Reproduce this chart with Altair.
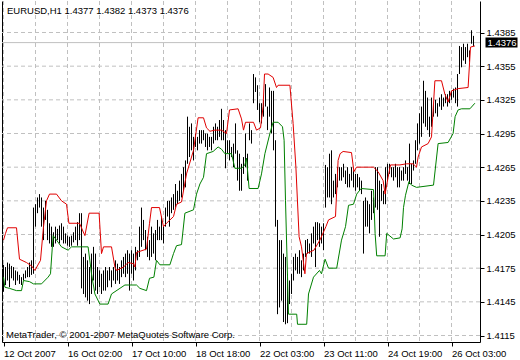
import json
import altair as alt
import pandas as pd

# ---------------- data ----------------
symbol = "EURUSD,H1"
copyright_text = "MetaTrader, \u00a9 2001-2007 MetaQuotes Software Corp."

date_ticks = [0, 32, 64, 96, 128, 160, 192, 224]
date_labels = ["12 Oct 2007", "16 Oct 02:00", "17 Oct 10:00", "18 Oct 18:00",
               "22 Oct 03:00", "23 Oct 11:00", "24 Oct 19:00", "26 Oct 03:00"]
grid_x = [0, 16, 32, 48, 64, 80, 96, 112, 128, 144, 160, 176, 192, 208, 224]
price_ticks = [1.4115, 1.4145, 1.4175, 1.4205, 1.4235, 1.4265, 1.4295, 1.4325, 1.4355, 1.4385]

highs = [
    1.4178, 1.4176, 1.4180, 1.4179, 1.4177, 1.4176, 1.4173, 1.4172, 1.4169, 1.4167,
    1.4170, 1.4173, 1.4176, 1.4180, 1.4182, 1.4229, 1.4232, 1.4238, 1.4241, 1.4238,
    1.4229, 1.4235, 1.4227, 1.4215, 1.4212, 1.4207, 1.4212, 1.4210, 1.4213, 1.4215,
    1.4212, 1.4206, 1.4204, 1.4203, 1.4204, 1.4207, 1.4212, 1.4216, 1.4224, 1.4224,
    1.4185, 1.4188, 1.4182, 1.4176, 1.4188, 1.4194, 1.4188, 1.4176, 1.4173, 1.4170,
    1.4173, 1.4176, 1.4173, 1.4176, 1.4173, 1.4176, 1.4182, 1.4179, 1.4176, 1.4182,
    1.4185, 1.4188, 1.4191, 1.4188, 1.4191, 1.4188, 1.4194, 1.4191, 1.4212, 1.4229,
    1.4218, 1.4209, 1.4203, 1.4200, 1.4212, 1.4206, 1.4209, 1.4218, 1.4212, 1.4221,
    1.4212, 1.4229, 1.4235, 1.4235, 1.4238, 1.4241, 1.4250, 1.4244, 1.4253, 1.4259,
    1.4265, 1.4271, 1.4310, 1.4301, 1.4304, 1.4292, 1.4295, 1.4292, 1.4298, 1.4298,
    1.4298, 1.4295, 1.4295, 1.4292, 1.4292, 1.4301, 1.4304, 1.4301, 1.4307, 1.4317,
    1.4307, 1.4298, 1.4289, 1.4289, 1.4283, 1.4286, 1.4304, 1.4280, 1.4277, 1.4268,
    1.4274, 1.4295, 1.4277, 1.4304, 1.4298, 1.4348, 1.4345, 1.4338, 1.4322, 1.4322,
    1.4325, 1.4339, 1.4319, 1.4336, 1.4333, 1.4333, 1.4289, 1.4218, 1.4200, 1.4200,
    1.4188, 1.4185, 1.4170, 1.4164, 1.4170, 1.4185, 1.4188, 1.4185, 1.4191, 1.4182,
    1.4188, 1.4200, 1.4201, 1.4197, 1.4206, 1.4212, 1.4216, 1.4216, 1.4215, 1.4212,
    1.4215, 1.4267, 1.4265, 1.4277, 1.4280, 1.4253, 1.4259, 1.4265, 1.4265, 1.4265,
    1.4268, 1.4262, 1.4265, 1.4259, 1.4265, 1.4262, 1.4259, 1.4259, 1.4256, 1.4253,
    1.4235, 1.4238, 1.4235, 1.4232, 1.4244, 1.4238, 1.4265, 1.4265, 1.4253, 1.4250,
    1.4244, 1.4265, 1.4268, 1.4268, 1.4265, 1.4265, 1.4268, 1.4265, 1.4265, 1.4262,
    1.4265, 1.4271, 1.4265, 1.4286, 1.4268, 1.4271, 1.4289, 1.4304, 1.4313, 1.4319,
    1.4342, 1.4333, 1.4327, 1.4310, 1.4327, 1.4322, 1.4325, 1.4322, 1.4327, 1.4330,
    1.4327, 1.4330, 1.4330, 1.4333, 1.4333, 1.4335, 1.4336, 1.4348, 1.4373, 1.4372,
    1.4375, 1.4372, 1.4375, 1.4369, 1.4387, 1.4382,
]
lows = [
    1.4154, 1.4160, 1.4164, 1.4158, 1.4166, 1.4164, 1.4160, 1.4164, 1.4161, 1.4160,
    1.4164, 1.4166, 1.4167, 1.4167, 1.4169, 1.4170, 1.4212, 1.4224, 1.4229, 1.4212,
    1.4200, 1.4218, 1.4200, 1.4197, 1.4194, 1.4194, 1.4197, 1.4200, 1.4197, 1.4200,
    1.4197, 1.4197, 1.4195, 1.4194, 1.4195, 1.4198, 1.4200, 1.4195, 1.4200, 1.4157,
    1.4152, 1.4149, 1.4146, 1.4143, 1.4152, 1.4164, 1.4155, 1.4152, 1.4158, 1.4152,
    1.4155, 1.4155, 1.4158, 1.4164, 1.4158, 1.4164, 1.4161, 1.4164, 1.4161, 1.4167,
    1.4170, 1.4167, 1.4170, 1.4155, 1.4170, 1.4164, 1.4173, 1.4182, 1.4185, 1.4194,
    1.4200, 1.4191, 1.4185, 1.4182, 1.4185, 1.4188, 1.4182, 1.4200, 1.4200, 1.4200,
    1.4197, 1.4212, 1.4221, 1.4212, 1.4224, 1.4227, 1.4229, 1.4232, 1.4235, 1.4238,
    1.4244, 1.4247, 1.4268, 1.4274, 1.4280, 1.4271, 1.4283, 1.4280, 1.4286, 1.4286,
    1.4289, 1.4283, 1.4280, 1.4283, 1.4280, 1.4286, 1.4289, 1.4289, 1.4292, 1.4289,
    1.4289, 1.4264, 1.4277, 1.4271, 1.4274, 1.4265, 1.4277, 1.4253, 1.4244, 1.4244,
    1.4259, 1.4265, 1.4253, 1.4289, 1.4286, 1.4322, 1.4332, 1.4316, 1.4305, 1.4304,
    1.4310, 1.4319, 1.4298, 1.4310, 1.4295, 1.4280, 1.4212, 1.4134, 1.4140, 1.4146,
    1.4127, 1.4125, 1.4126, 1.4143, 1.4152, 1.4164, 1.4173, 1.4170, 1.4170, 1.4167,
    1.4173, 1.4185, 1.4188, 1.4188, 1.4185, 1.4197, 1.4176, 1.4200, 1.4194, 1.4197,
    1.4191, 1.4229, 1.4238, 1.4238, 1.4232, 1.4238, 1.4241, 1.4247, 1.4253, 1.4253,
    1.4256, 1.4250, 1.4247, 1.4247, 1.4253, 1.4247, 1.4244, 1.4247, 1.4244, 1.4241,
    1.4188, 1.4212, 1.4212, 1.4206, 1.4218, 1.4224, 1.4229, 1.4227, 1.4203, 1.4235,
    1.4232, 1.4232, 1.4253, 1.4259, 1.4256, 1.4253, 1.4256, 1.4247, 1.4247, 1.4253,
    1.4253, 1.4259, 1.4253, 1.4250, 1.4250, 1.4262, 1.4268, 1.4280, 1.4286, 1.4292,
    1.4304, 1.4301, 1.4298, 1.4292, 1.4301, 1.4310, 1.4313, 1.4310, 1.4319, 1.4316,
    1.4319, 1.4322, 1.4319, 1.4322, 1.4325, 1.4327, 1.4322, 1.4319, 1.4348, 1.4354,
    1.4360, 1.4357, 1.4363, 1.4359, 1.4375, 1.4373,
]
last_open = 1.4377
last_close = 1.4376

red_bar = [0, 1, 2, 6.5, 8, 11.5, 14, 15.7, 18.5, 20, 21.5, 23, 26.5, 29, 31.5, 32.7, 38,
           40.7, 42.8, 47.8, 49, 50, 54, 55.7, 56.5, 60, 62.3, 65, 65.7, 66.5, 71.5, 73, 74,
           78, 80, 81.5, 85, 86.5, 89, 91.5, 95, 97.3, 100, 101.5, 103.2, 105.7, 109, 111.5,
           113, 117.3, 119, 120, 121, 125, 126.5, 128.5, 129.8, 130.5, 132.3, 134.8, 136.5,
           137.3, 143.2, 144.8, 146.2, 147.8, 149, 150.7, 151.5, 155.2, 158.2, 161.2, 162.5,
           166, 167.3, 168.3, 169.8, 174, 175.2, 176.5, 185, 187.3, 189.8, 190.8, 192.3,
           193.5, 198.2, 201.5, 204.8, 206.5, 207.3, 209, 212.3, 214, 215.7, 219, 220.7,
           222.3, 224, 227.3, 232.3, 233.5, 235.7]
red_price = [1.4200, 1.4206, 1.4211, 1.4211, 1.4183, 1.4180, 1.4177, 1.4173, 1.4182, 1.4212,
             1.4235, 1.4241, 1.4241, 1.4235, 1.4232, 1.4215, 1.4215, 1.4204, 1.4224, 1.4224,
             1.4188, 1.4194, 1.4194, 1.4176, 1.4173, 1.4176, 1.4180, 1.4179, 1.4176, 1.4189,
             1.4192, 1.4215, 1.4229, 1.4229, 1.4212, 1.4215, 1.4221, 1.4232, 1.4234, 1.4259,
             1.4280, 1.4309, 1.4309, 1.4300, 1.4297, 1.4298, 1.4298, 1.4295, 1.4316, 1.4317,
             1.4308, 1.4298, 1.4305, 1.4305, 1.4298, 1.4300, 1.4319, 1.4348, 1.4348, 1.4345,
             1.4336, 1.4338, 1.4338, 1.4304, 1.4265, 1.4203, 1.4194, 1.4170, 1.4188, 1.4191,
             1.4200, 1.4212, 1.4218, 1.4221, 1.4271, 1.4277, 1.4279, 1.4278, 1.4261, 1.4265,
             1.4265, 1.4261, 1.4253, 1.4241, 1.4256, 1.4267, 1.4267, 1.4268, 1.4268, 1.4265,
             1.4274, 1.4283, 1.4286, 1.4292, 1.4342, 1.4342, 1.4330, 1.4323, 1.4333, 1.4335,
             1.4336, 1.4372, 1.4373]

green_bar = [0, 0.7, 3, 6.5, 9, 10, 13, 15, 19, 22.3, 23.5, 24.8, 26.5, 29, 32.3, 34, 42.3,
             44, 45.7, 48.2, 52.3, 54, 60.7, 62.3, 66.5, 68.2, 71.5, 73, 75.2, 76.5, 78.2,
             83.2, 85, 86.5, 89, 90.7, 95, 96.5, 98.2, 100, 101.5, 104.8, 107.3, 109, 110.7,
             114, 115.7, 119, 120.7, 121.5, 122.8, 127.3, 129, 130.7, 133.2, 134.8, 137.3,
             139.5, 140.3, 141, 142.5, 146.6, 147, 151.6, 152.5, 155, 158, 159, 160.8, 162.5,
             166.6, 169, 171, 172.5, 175, 176.6, 178.8, 185, 185.8, 186.6, 190.8, 191.6, 195,
             198.3, 199.3, 200, 201, 202.7, 204, 206.5, 215, 217.3, 222.3, 224.8, 225.8,
             227.3, 229, 233.2, 235.7]
green_price = [1.4167, 1.4158, 1.4157, 1.4155, 1.4155, 1.4164, 1.4163, 1.4161, 1.4161, 1.4167,
               1.4170, 1.4204, 1.4200, 1.4194, 1.4191, 1.4194, 1.4194, 1.4170, 1.4152, 1.4143,
               1.4143, 1.4152, 1.4160, 1.4160, 1.4160, 1.4157, 1.4155, 1.4166, 1.4167, 1.4182,
               1.4178, 1.4178, 1.4188, 1.4195, 1.4196, 1.4224, 1.4227, 1.4241, 1.4250, 1.4256,
               1.4277, 1.4279, 1.4283, 1.4281, 1.4277, 1.4277, 1.4264, 1.4264, 1.4267, 1.4273,
               1.4246, 1.4246, 1.4259, 1.4277, 1.4295, 1.4305, 1.4305, 1.4301, 1.4289, 1.4235,
               1.4134, 1.4134, 1.4125, 1.4125, 1.4152, 1.4167, 1.4173, 1.4170, 1.4183, 1.4175,
               1.4175, 1.4200, 1.4212, 1.4231, 1.4232, 1.4241, 1.4246, 1.4245, 1.4206, 1.4186,
               1.4186, 1.4206, 1.4201, 1.4202, 1.4210, 1.4229, 1.4240, 1.4252, 1.4249, 1.4247,
               1.4249, 1.4286, 1.4287, 1.4295, 1.4310, 1.4316, 1.4317, 1.4317, 1.4322]

# ---------------- tables ----------------
bars = pd.DataFrame({"bar": list(range(len(highs))), "high": highs, "low": lows})
red = pd.DataFrame({"bar": red_bar, "price": red_price})
green = pd.DataFrame({"bar": green_bar, "price": green_price})
hgrid = pd.DataFrame({"price": price_ticks})
vgrid = pd.DataFrame({"bar": grid_x})
last = pd.DataFrame({"price": [last_close], "label": [f"{last_close:.4f}"]})
header = pd.DataFrame({"t": [f"{symbol}  {last_open:.4f} {highs[-1]:.4f} {lows[-1]:.4f} {last_close:.4f}"]})
foot = pd.DataFrame({"t": [copyright_text]})

FONT = "Liberation Sans"
FS = 9.5
GRID = "#c0c0c0"

xs = alt.Scale(domain=[-0.75, 238.25], nice=False, zero=False)
ys = alt.Scale(domain=[1.410921, 1.441307], nice=False, zero=False)

label_expr = json.dumps(date_labels) + "[round(datum.value / 32)]"

x_axis = alt.Axis(values=date_ticks, labelExpr=label_expr, grid=False, title=None,
                  orient="bottom", domainColor="black", tickColor="black", tickSize=4,
                  labelAlign="left", labelFont=FONT, labelFontSize=FS, labelColor="black",
                  labelPadding=2, labelOverlap=False, labelFlush=False, labelBaseline="top")
y_axis = alt.Axis(values=price_ticks, format=".4f", grid=False, title=None, orient="right",
                  domainColor="black", tickColor="black", tickSize=4, labelFont=FONT,
                  labelFontSize=FS, labelColor="black", labelPadding=2, labelOverlap=False,
                  labelFlush=False)
left_frame = alt.Axis(orient="left", labels=False, ticks=False, grid=False, title=None,
                      domainColor="black")

hgrid_layer = alt.Chart(hgrid).mark_rule(color=GRID, strokeDash=[4, 3], strokeWidth=1).encode(
    y=alt.Y("price:Q", scale=ys, axis=left_frame)
)
vgrid_layer = alt.Chart(vgrid).mark_rule(color=GRID, strokeDash=[4, 3], strokeWidth=1).encode(
    x=alt.X("bar:Q", scale=xs, axis=x_axis)
)
last_line = alt.Chart(last).mark_rule(color="#c0c0c0", strokeWidth=1).encode(
    y=alt.Y("price:Q", scale=ys, axis=None)
)
bar_layer = alt.Chart(bars).mark_rule(color="black", strokeWidth=1).encode(
    x=alt.X("bar:Q", scale=xs, axis=None),
    y=alt.Y("low:Q", scale=ys, axis=y_axis),
    y2="high:Q",
)
red_layer = alt.Chart(red).mark_line(color="#e00000", strokeWidth=1).encode(
    x=alt.X("bar:Q", scale=xs, axis=None),
    y=alt.Y("price:Q", scale=ys, axis=None),
    order="bar:Q",
)
green_layer = alt.Chart(green).mark_line(color="#008000", strokeWidth=1).encode(
    x=alt.X("bar:Q", scale=xs, axis=None),
    y=alt.Y("price:Q", scale=ys, axis=None),
    order="bar:Q",
)
box_layer = alt.Chart(last).mark_tick(color="black", thickness=10, size=32, orient="horizontal",
                                       opacity=1, clip=False).encode(
    x=alt.value(499.5),
    y=alt.Y("price:Q", scale=ys, axis=None),
)
box_text = alt.Chart(last).mark_text(color="white", font=FONT, fontSize=FS, align="center",
                                     baseline="middle", clip=False).encode(
    x=alt.value(500),
    y=alt.Y("price:Q", scale=ys, axis=None),
    text="label:N",
)
header_layer = alt.Chart(header).mark_text(color="black", font=FONT, fontSize=FS, align="left",
                                           baseline="alphabetic").encode(
    x=alt.value(5), y=alt.value(13), text="t:N"
)
foot_layer = alt.Chart(foot).mark_text(color="black", font=FONT, fontSize=FS, align="left",
                                       baseline="alphabetic").encode(
    x=alt.value(4), y=alt.value(337), text="t:N"
)

chart = alt.layer(
    hgrid_layer, vgrid_layer, last_line, bar_layer, red_layer, green_layer,
    box_layer, box_text, header_layer, foot_layer,
).resolve_axis(x="independent", y="independent").properties(
    width=478, height=341,
    autosize=alt.AutoSizeParams(type="none"),
    padding={"left": 2, "top": 1, "right": 40, "bottom": 18},
    background="white",
).configure_view(strokeWidth=0)

chart.save("out.html", embed_options={"renderer": "svg", "actions": False})
